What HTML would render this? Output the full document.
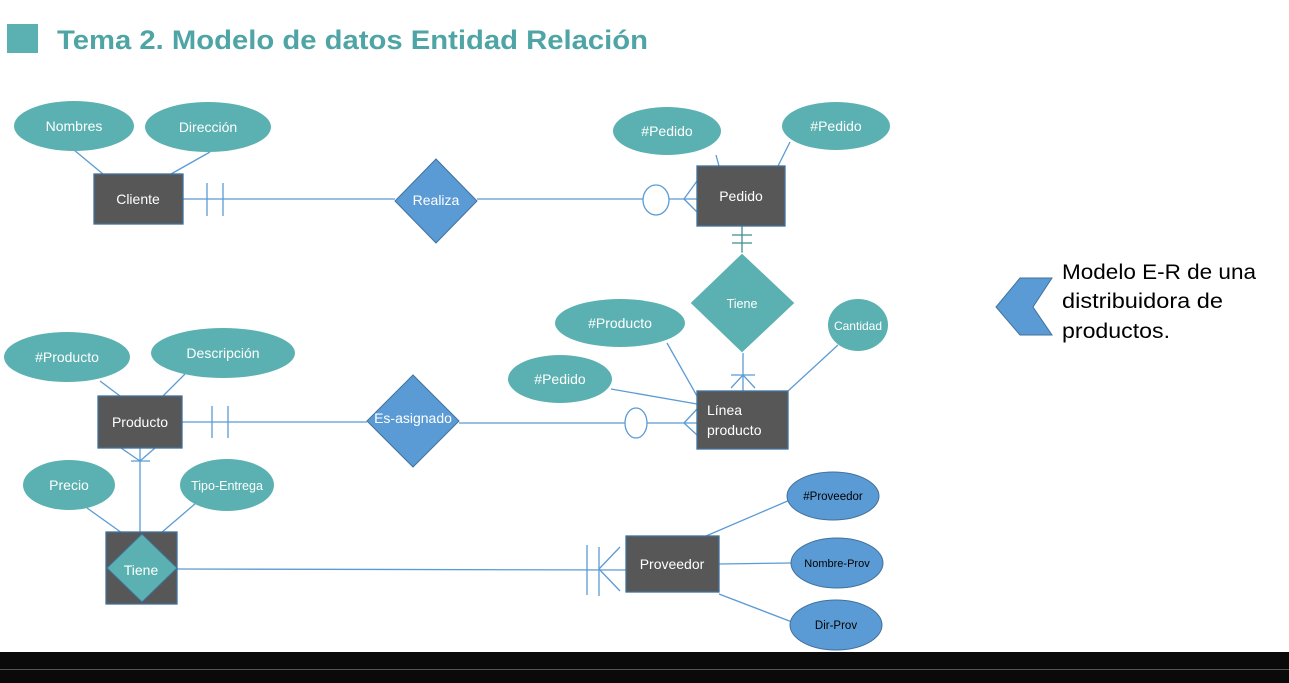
<!DOCTYPE html>
<html><head><meta charset="utf-8"><style>
html,body{margin:0;padding:0;background:#fff;width:1289px;height:683px;overflow:hidden}
svg{display:block}
text{font-family:"Liberation Sans",sans-serif}
</style></head><body>
<svg width="1289" height="683" viewBox="0 0 1289 683" xmlns="http://www.w3.org/2000/svg">
<rect x="7" y="24" width="31" height="29" fill="#5BB1B1"/>
<text x="57" y="49" font-size="27" font-weight="bold" fill="#4FA5A5" textLength="591" lengthAdjust="spacingAndGlyphs">Tema 2. Modelo de datos Entidad Relación</text>

<g stroke="#5B9BD5" stroke-width="1.3" fill="none">
<line x1="74" y1="150" x2="103" y2="174"/>
<line x1="210" y1="152" x2="171" y2="174"/>
<line x1="716" y1="155" x2="719" y2="166"/>
<line x1="790" y1="142" x2="778" y2="166"/>
<line x1="667" y1="343" x2="697" y2="396"/>
<line x1="611" y1="389" x2="697" y2="404"/>
<line x1="838" y1="345" x2="788" y2="391"/>
<line x1="100" y1="381" x2="120" y2="396"/>
<line x1="185" y1="374" x2="163" y2="396"/>
<line x1="87" y1="508" x2="122" y2="533"/>
<line x1="196" y1="503" x2="161" y2="533"/>
<line x1="706" y1="536" x2="790" y2="500"/>
<line x1="719" y1="564" x2="791" y2="563"/>
<line x1="719" y1="594" x2="792" y2="622"/>
<line x1="183" y1="199" x2="395" y2="199"/>
<line x1="207" y1="183" x2="207" y2="216"/>
<line x1="223" y1="183" x2="223" y2="216"/>
<line x1="477" y1="199" x2="697" y2="199"/>
<ellipse cx="656" cy="200" rx="13" ry="15" fill="#fff"/>
<line x1="684" y1="199" x2="697" y2="181"/>
<line x1="684" y1="199" x2="697" y2="212"/>
<line x1="742" y1="226" x2="742" y2="253" stroke="#3E8E8E"/>
<line x1="732" y1="235" x2="752" y2="235" stroke="#3E8E8E"/>
<line x1="732" y1="243" x2="752" y2="243" stroke="#3E8E8E"/>
<line x1="743" y1="353" x2="743" y2="391"/>
<line x1="731" y1="375" x2="755" y2="375"/>
<line x1="743" y1="375" x2="731" y2="388"/>
<line x1="743" y1="375" x2="755" y2="388"/>
<line x1="182" y1="422" x2="367" y2="422"/>
<line x1="212" y1="406" x2="212" y2="438"/>
<line x1="228" y1="406" x2="228" y2="438"/>
<line x1="459" y1="423" x2="697" y2="423"/>
<ellipse cx="636" cy="423" rx="11" ry="15" fill="#fff"/>
<line x1="684" y1="423" x2="697" y2="409"/>
<line x1="684" y1="423" x2="697" y2="435"/>
<line x1="140" y1="448" x2="140" y2="534"/>
<line x1="121" y1="448" x2="140" y2="461"/>
<line x1="155" y1="448" x2="140" y2="461"/>
<line x1="131" y1="461" x2="150" y2="461"/>
<line x1="177" y1="569" x2="626" y2="570"/>
<line x1="587" y1="545" x2="587" y2="595"/>
<line x1="599" y1="547" x2="599" y2="596"/>
<line x1="599" y1="569" x2="620" y2="547"/>
<line x1="599" y1="569" x2="620" y2="591"/>
</g>

<g fill="#5BB1B1">
<ellipse cx="74" cy="126" rx="60" ry="25"/>
<ellipse cx="208" cy="127" rx="63" ry="25"/>
<ellipse cx="667" cy="131" rx="54" ry="24"/>
<ellipse cx="836" cy="126" rx="54" ry="24"/>
<ellipse cx="620" cy="323" rx="65" ry="24"/>
<ellipse cx="858" cy="325" rx="30" ry="26"/>
<ellipse cx="560" cy="379" rx="52" ry="24"/>
<ellipse cx="67" cy="357" rx="63" ry="25"/>
<ellipse cx="223" cy="353" rx="72" ry="25"/>
<ellipse cx="69" cy="485" rx="46" ry="25"/>
<ellipse cx="227" cy="485" rx="47" ry="26"/>
</g>
<g fill="#5B9BD5" stroke="#41719C" stroke-width="1">
<ellipse cx="833" cy="496" rx="46" ry="24"/>
<ellipse cx="837" cy="563" rx="46" ry="25"/>
<ellipse cx="836" cy="625" rx="46" ry="25"/>
</g>

<g fill="#575757" stroke="#41719C" stroke-width="1.3">
<rect x="94" y="174" width="89" height="50"/>
<rect x="697" y="166" width="88" height="60"/>
<rect x="697" y="391" width="91" height="58"/>
<rect x="98" y="396" width="84" height="52"/>
<rect x="106" y="532" width="71" height="72"/>
<rect x="626" y="536" width="93" height="56"/>
</g>

<polygon points="436,159 477,201 436,243 395,201" fill="#5B9BD5" stroke="#41719C"/>
<polygon points="742,253 795,303 742,353 690,303" fill="#5BB1B1" stroke="#fff"/>
<polygon points="413,375 459,421 413,467 367,421" fill="#5B9BD5" stroke="#41719C"/>
<polygon points="142,534 177,568 142,602 107,568" fill="#5BB1B1" stroke="#41719C"/>
<polygon points="1020,278 1052,278 1033,307 1052,335 1020,335 996,307" fill="#5B9BD5" stroke="#41719C"/>

<g fill="#fff" font-size="14" text-anchor="middle">
<text x="74" y="131">Nombres</text>
<text x="208" y="132">Dirección</text>
<text x="667" y="136">#Pedido</text>
<text x="836" y="131">#Pedido</text>
<text x="620" y="328">#Producto</text>
<text x="858" y="330" font-size="12">Cantidad</text>
<text x="560" y="384">#Pedido</text>
<text x="67" y="362">#Producto</text>
<text x="223" y="358">Descripción</text>
<text x="69" y="490">Precio</text>
<text x="227" y="490" font-size="12.5">Tipo-Entrega</text>
<text x="138" y="204">Cliente</text>
<text x="741" y="201">Pedido</text>
<text x="140" y="427">Producto</text>
<text x="672" y="569">Proveedor</text>
<text x="436" y="205">Realiza</text>
<text x="742" y="308" font-size="12.5">Tiene</text>
<text x="413" y="423">Es-asignado</text>
<text x="141" y="575">Tiene</text>
<text x="707" y="415" text-anchor="start">Línea</text>
<text x="707" y="435" text-anchor="start">producto</text>
</g>
<g fill="#000" font-size="11.5" text-anchor="middle">
<text x="833" y="500">#Proveedor</text>
<text x="837" y="567" font-size="11">Nombre-Prov</text>
<text x="836" y="629">Dir-Prov</text>
</g>
<g fill="#000" font-size="21">
<text x="1062" y="279" textLength="194" lengthAdjust="spacingAndGlyphs">Modelo E-R de una</text>
<text x="1062" y="308" textLength="161" lengthAdjust="spacingAndGlyphs">distribuidora de</text>
<text x="1062" y="338" textLength="108" lengthAdjust="spacingAndGlyphs">productos.</text>
</g>
<rect x="0" y="652" width="1289" height="31" fill="#0A0A0A"/>
<rect x="0" y="669" width="1289" height="1" fill="#555"/>
</svg>
</body></html>
